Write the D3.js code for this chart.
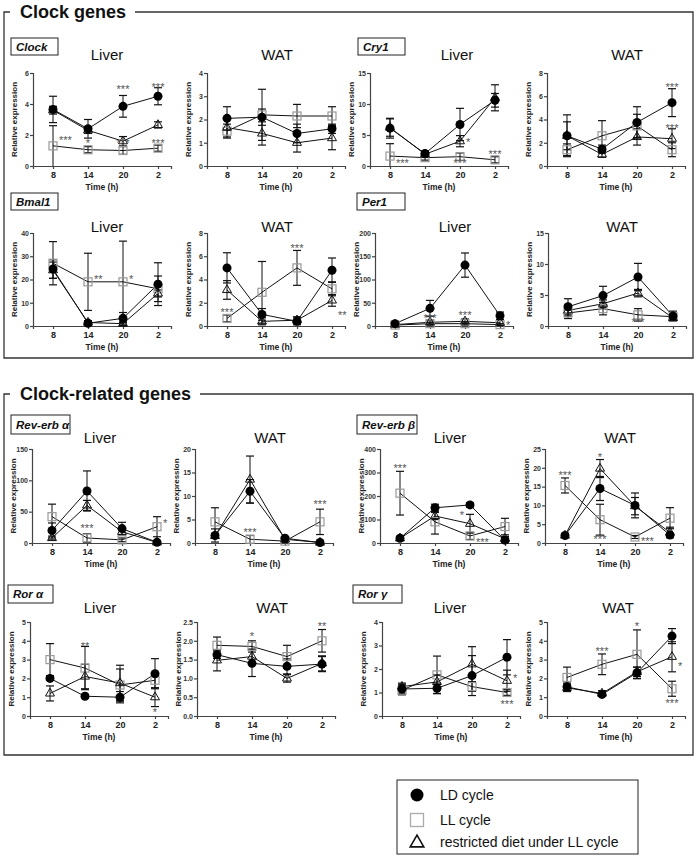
<!DOCTYPE html>
<html><head><meta charset="utf-8">
<script src="https://cdn.jsdelivr.net/npm/d3@7"></script>
<style>body{margin:0;background:#fff} svg{display:block;font-family:Arial,"Liberation Sans",sans-serif}</style>
</head><body><svg id="c" width="700" height="859"></svg>
<script>
// ---------- data ----------
const times = ["8","14","20","2"];
const legendLabels = ["LD cycle","LL cycle","restricted diet under LL cycle"];
const sectionTitles = ["Clock genes","Clock-related genes"];
// each point: [mean, error]
const clockLiverLD = [[3.65,0.85],[2.4,0.6],[3.85,0.7],[4.5,0.55]];
const clockLiverLL = [[1.3,1.3],[1.05,0.2],[1.0,0.25],[1.15,0.2]];
const clockLiverRD = [[3.6,0.25],[2.3,0.2],[1.6,0.3],[2.65,0.2]];
const clockLiverStars = [[0,1.8,"***","r"],[1,1.6,"*","c"],[2,5.1,"***","c"],[2,1.6,"***","c"],[3,5.2,"***","c"],[3,1.6,"***","c"]];
const clockWatLD = [[2.05,0.5],[2.1,0.35],[1.4,0.4],[1.6,0.2]];
const clockWatLL = [[1.5,0.3],[2.2,1.1],[2.15,0.5],[2.15,0.4]];
const clockWatRD = [[1.65,0.4],[1.4,0.5],[1.0,0.4],[1.2,0.5]];
const clockWatStars = [];
const cry1LiverLD = [[6.1,1.6],[2.0,0.4],[6.7,2.6],[10.6,1.1]];
const cry1LiverLL = [[1.6,2.0],[1.35,0.4],[1.5,0.6],[1.0,0.5]];
const cry1LiverRD = [[6.2,1.4],[1.9,0.5],[4.0,0.9],[11.0,2.1]];
const cry1LiverStars = [[0,0.8,"***","r"],[2,4.2,"*","r"],[2,0.8,"***","c"],[3,2.3,"***","c"]];
const cry1WatLD = [[2.6,1.8],[1.45,0.35],[3.75,1.35],[5.45,1.2]];
const cry1WatLL = [[1.4,0.5],[2.6,1.3],[3.45,1.0],[1.4,0.6]];
const cry1WatRD = [[2.6,1.2],[1.0,0.25],[2.5,0.7],[2.35,0.85]];
const cry1WatStars = [[3,7.0,"***","c"],[3,3.4,"***","c"]];
const bmal1LiverLD = [[24.5,4],[1.2,1],[3.3,2.5],[18,9.2]];
const bmal1LiverLL = [[27,9.3],[19,12.3],[19,17.5],[16,5.5]];
const bmal1LiverRD = [[24,3.5],[1.5,0.8],[1.0,0.8],[14,1.5]];
const bmal1LiverStars = [[1,21,"**","r"],[2,21,"*","r"]];
const bmal1WatLD = [[5.0,1.3],[1.0,0.5],[0.4,0.3],[4.8,1.05]];
const bmal1WatLL = [[0.65,0.3],[2.9,2.65],[5.0,1.5],[3.2,0.6]];
const bmal1WatRD = [[3.1,0.8],[0.4,0.3],[0.5,0.3],[2.2,0.5]];
const bmal1WatStars = [[0,1.35,"***","c"],[2,6.9,"***","c"],[3,1.1,"**","r"]];
const per1LiverLD = [[5,4],[38,17],[131,26],[22,8]];
const per1LiverLL = [[2,3],[5,3],[5,3],[3,2]];
const per1LiverRD = [[3,3],[8,5],[10,5],[7,5]];
const per1LiverStars = [[1,22.5,"***","c"],[2,27,"***","c"],[3,7,"*","r"]];
const per1WatLD = [[3.1,1.3],[4.9,1.5],[7.9,2.2],[1.6,0.8]];
const per1WatLL = [[2.1,0.9],[2.8,1.0],[1.8,1.0],[1.5,0.5]];
const per1WatRD = [[2.5,0.9],[3.6,0.6],[5.3,0.6],[1.3,0.4]];
const per1WatStars = [[2,0.9,"***","c"]];
const revaLiverLD = [[20,12],[83,32],[23,10],[1,1]];
const revaLiverLL = [[42,20],[8,7],[5,3],[26,16]];
const revaLiverRD = [[8,3],[60,8],[18,5],[1,1]];
const revaLiverStars = [[1,27,"***","c"],[3,35,"*","r"]];
const revaWatLD = [[1.6,1.4],[11,2.5],[1.0,0.3],[0.1,0.1]];
const revaWatLL = [[4.5,3],[0.8,0.8],[0.4,0.3],[4.5,2.7]];
const revaWatRD = [[1.5,0.5],[13.5,5],[0.8,0.3],[0.1,0.1]];
const revaWatStars = [[1,2.8,"***","c"],[3,8.7,"***","c"]];
const revbLiverLD = [[20,8],[150,15],[162,10],[12,10]];
const revbLiverLL = [[212,93],[90,52],[30,15],[70,35]];
const revbLiverRD = [[20,8],[115,15],[82,40],[18,10]];
const revbLiverStars = [[0,329,"***","c"],[2,128,"*","l"],[2,12,"***","r"]];
const revbWatLD = [[2.0,0.4],[14.5,3.2],[10,3.3],[2.1,0.5]];
const revbWatLL = [[15.3,2],[6.2,4.1],[1.6,0.4],[6.6,2.8]];
const revbWatRD = [[2.0,0.4],[19.8,2.4],[9.8,2.3],[2.8,1.4]];
const revbWatStars = [[0,18.6,"***","c"],[1,23.5,"*","c"],[1,1.5,"***","c"],[2,1.1,"***","r"]];
const roraLiverLD = [[2.0,0.1],[1.05,0.1],[1.0,0.3],[2.25,0.8]];
const roraLiverLL = [[3.0,0.85],[2.55,1.15],[1.65,0.85],[1.9,0.4]];
const roraLiverRD = [[1.2,0.4],[2.1,0.65],[1.75,0.95],[1.0,0.5]];
const roraLiverStars = [[1,3.85,"**","c"],[3,0.32,"*","c"]];
const roraWatLD = [[1.63,0.1],[1.4,0.35],[1.32,0.2],[1.38,0.2]];
const roraWatLL = [[1.88,0.22],[1.85,0.15],[1.58,0.3],[2.0,0.3]];
const roraWatRD = [[1.48,0.28],[1.58,0.2],[1.0,0.1],[1.4,0.2]];
const roraWatStars = [[1,2.19,"*","c"],[3,2.45,"**","c"]];
const rorgLiverLD = [[1.15,0.2],[1.18,0.22],[1.72,0.85],[2.5,0.75]];
const rorgLiverLL = [[1.1,0.2],[1.75,0.8],[1.25,0.2],[1.0,0.12]];
const rorgLiverRD = [[1.25,0.15],[1.45,0.3],[2.2,0.75],[1.5,0.45]];
const rorgLiverStars = [[3,1.7,"*","r"],[3,0.6,"***","c"]];
const rorgWatLD = [[1.55,0.2],[1.15,0.1],[2.3,0.3],[4.25,0.4]];
const rorgWatLL = [[2.05,0.55],[2.75,0.55],[3.28,1.3],[1.45,0.4]];
const rorgWatRD = [[1.5,0.2],[1.2,0.15],[2.35,0.25],[3.15,0.8]];
const rorgWatStars = [[1,3.57,"***","c"],[2,4.9,"*","c"],[3,2.77,"*","r"],[3,0.8,"***","c"]];

// ---------- panel table ----------
const panels = [
 {r:0,c:0,gene:"Clock",tissue:"Liver",max:6,step:2,ld:clockLiverLD,ll:clockLiverLL,rd:clockLiverRD,stars:clockLiverStars},
 {r:0,c:1,tissue:"WAT",max:4,step:1,ld:clockWatLD,ll:clockWatLL,rd:clockWatRD,stars:clockWatStars},
 {r:0,c:2,gene:"Cry1",tissue:"Liver",max:15,step:5,ld:cry1LiverLD,ll:cry1LiverLL,rd:cry1LiverRD,stars:cry1LiverStars},
 {r:0,c:3,tissue:"WAT",max:8,step:2,ld:cry1WatLD,ll:cry1WatLL,rd:cry1WatRD,stars:cry1WatStars},
 {r:1,c:0,gene:"Bmal1",tissue:"Liver",max:40,step:10,ld:bmal1LiverLD,ll:bmal1LiverLL,rd:bmal1LiverRD,stars:bmal1LiverStars},
 {r:1,c:1,tissue:"WAT",max:8,step:2,ld:bmal1WatLD,ll:bmal1WatLL,rd:bmal1WatRD,stars:bmal1WatStars},
 {r:1,c:2,gene:"Per1",tissue:"Liver",max:200,step:50,ld:per1LiverLD,ll:per1LiverLL,rd:per1LiverRD,stars:per1LiverStars},
 {r:1,c:3,tissue:"WAT",max:15,step:5,ld:per1WatLD,ll:per1WatLL,rd:per1WatRD,stars:per1WatStars},
 {r:2,c:0,gene:"Rev-erb α",tissue:"Liver",max:150,step:50,ld:revaLiverLD,ll:revaLiverLL,rd:revaLiverRD,stars:revaLiverStars},
 {r:2,c:1,tissue:"WAT",max:20,step:5,ld:revaWatLD,ll:revaWatLL,rd:revaWatRD,stars:revaWatStars},
 {r:2,c:2,gene:"Rev-erb β",tissue:"Liver",max:400,step:100,ld:revbLiverLD,ll:revbLiverLL,rd:revbLiverRD,stars:revbLiverStars},
 {r:2,c:3,tissue:"WAT",max:25,step:5,ld:revbWatLD,ll:revbWatLL,rd:revbWatRD,stars:revbWatStars},
 {r:3,c:0,gene:"Ror α",tissue:"Liver",max:5,step:1,ld:roraLiverLD,ll:roraLiverLL,rd:roraLiverRD,stars:roraLiverStars},
 {r:3,c:1,tissue:"WAT",max:2.5,step:0.5,fmt:".1f",ld:roraWatLD,ll:roraWatLL,rd:roraWatRD,stars:roraWatStars},
 {r:3,c:2,gene:"Ror γ",tissue:"Liver",max:4,step:1,ld:rorgLiverLD,ll:rorgLiverLL,rd:rorgLiverRD,stars:rorgLiverStars},
 {r:3,c:3,tissue:"WAT",max:5,step:1,ld:rorgWatLD,ll:rorgWatLL,rd:rorgWatRD,stars:rorgWatStars}
];

// ---------- layout ----------
const rowTop = [73,233,449,622], rowBot = [166,326,543,716];
const rowTitleY = [55,227,438,608];
const rowGeneBox = [[38,55],[193,210],[415,434],[585,603]];
const axisX = [[33,207,370,547],[33,207,375,548],[32,195,380,545],[30,197,382,547]];
const titleX = [[107,277,457,627],[107,277,455,622],[100,270,450,620],[100,272,450,618]];
const geneBoxX = [[11,58,358,405],[11,58,357,405],[11,70,357,417],[8,53,353,402]];

const svg = d3.select("#c");

// section boxes
function sectionBox(title, top, bottom, lineStart){
  const g = svg.append("g");
  g.append("path").attr("d",`M10,${top} H4 V${bottom} H693 V${top} H${lineStart}`)
   .attr("fill","none").attr("stroke","#333").attr("stroke-width",1.3);
  g.append("text").attr("x",20).attr("y",top+6).attr("font-size",18).attr("font-weight","bold").attr("fill","#111").text(title);
}
sectionBox(sectionTitles[0],12,358,135);
sectionBox(sectionTitles[1],394,755,200);

function starTxt(g, x, y, s){
  const dx = s[3]==="r" ? 6 : s[3]==="l" ? -6 : 0;
  g.append("text").attr("x",x(s[0])+dx).attr("y",y(s[1])+6)
    .attr("text-anchor", s[3]==="r"?"start":s[3]==="l"?"end":"middle")
    .attr("font-size",11).attr("fill","#555").text(s[2]);
}

panels.forEach(p=>{
  const g = svg.append("g");
  const x0 = axisX[p.r][p.c], top = rowTop[p.r], bot = rowBot[p.r];
  const x = d3.scaleLinear().domain([-20/35, 118/35]).range([x0, x0+138]);
  const y = d3.scaleLinear().domain([0,p.max]).range([bot, top]);
  const fmt = p.fmt ? d3.format(p.fmt) : d3.format("d");
  const ya = g.append("g").attr("transform",`translate(${x0},0)`)
    .call(d3.axisLeft(y).tickValues(d3.range(0,p.max+p.step/2,p.step)).tickFormat(fmt).tickSizeOuter(0).tickSize(3).tickPadding(1));
  ya.selectAll("text").attr("font-size",7).attr("font-weight","bold").attr("fill","#333").attr("font-family","Arial");
  const xa = g.append("g").attr("transform",`translate(0,${bot})`)
    .call(d3.axisBottom(x).tickValues([0,1,2,3]).tickFormat(i=>times[i]).tickSizeOuter(0).tickSize(3).tickPadding(3));
  xa.selectAll("text").attr("font-size",9).attr("font-weight","bold").attr("fill","#222").attr("font-family","Arial");
  g.selectAll(".domain, .tick line").attr("stroke","#444").attr("stroke-width",1.2);
  g.append("text").attr("x",x0+69).attr("y",bot+24).attr("text-anchor","middle")
    .attr("font-size",8.5).attr("font-weight","bold").attr("fill","#222").text("Time (h)");
  g.append("text").attr("transform",`translate(${x0-16},${(top+bot)/2}) rotate(-90)`).attr("text-anchor","middle")
    .attr("font-size",8).attr("font-weight","bold").attr("fill","#222").text("Relative expression");
  g.append("text").attr("x",titleX[p.r][p.c]).attr("y",rowTitleY[p.r]+5).attr("text-anchor","middle")
    .attr("font-size",15).attr("fill","#111").text(p.tissue);
  if(p.gene){
    const gx = geneBoxX[p.r][p.c < 2 ? 0 : 2], gx2 = geneBoxX[p.r][p.c < 2 ? 1 : 3];
    const [gy1, gy2] = rowGeneBox[p.r];
    g.append("rect").attr("x",gx).attr("y",gy1).attr("width",gx2-gx).attr("height",gy2-gy1)
      .attr("fill","#fff").attr("stroke","#222").attr("stroke-width",1);
    g.append("text").attr("x",gx+5).attr("y",(gy1+gy2)/2+4).attr("font-size",11.5)
      .attr("font-weight","bold").attr("font-style","italic").attr("fill","#111").text(p.gene);
  }
  const line = d3.line().x((d,i)=>x(i)).y(d=>y(d[0]));
  [p.ll,p.rd,p.ld].forEach(s=>{
    g.append("path").datum(s).attr("d",line).attr("fill","none").attr("stroke","#111").attr("stroke-width",1);
  });
  [p.ll,p.rd,p.ld].forEach(s=>{
    s.forEach((d,i)=>{
      const lo = Math.max(0,d[0]-d[1]), hi = d[0]+d[1];
      const xi = x(i);
      g.append("line").attr("x1",xi).attr("x2",xi).attr("y1",y(lo)).attr("y2",y(hi)).attr("stroke","#111").attr("stroke-width",1);
      [lo,hi].forEach(v=>{ if(v>0) g.append("line").attr("x1",xi-4).attr("x2",xi+4).attr("y1",y(v)).attr("y2",y(v)).attr("stroke","#111").attr("stroke-width",1.2); });
    });
  });
  p.ll.forEach((d,i)=>{
    g.append("rect").attr("x",x(i)-4).attr("y",y(d[0])-4).attr("width",8).attr("height",8)
      .attr("fill","none").attr("stroke","#999").attr("stroke-width",1.2);
  });
  p.rd.forEach((d,i)=>{
    g.append("path").attr("d",d3.symbol(d3.symbolTriangle,35)()).attr("transform",`translate(${x(i)},${y(d[0])})`)
      .attr("fill","none").attr("stroke","#111").attr("stroke-width",1);
  });
  p.ld.forEach((d,i)=>{
    g.append("circle").attr("cx",x(i)).attr("cy",y(d[0])).attr("r",4.5).attr("fill","#000");
  });
  p.stars.forEach(s=>starTxt(g,x,y,s));
});

// legend
const lg = svg.append("g");
lg.append("rect").attr("x",397).attr("y",780).attr("width",241).attr("height",74).attr("fill","#fff").attr("stroke","#222").attr("stroke-width",1);
const ly = [795,820,842];
lg.append("circle").attr("cx",417).attr("cy",ly[0]).attr("r",6.5).attr("fill","#000");
lg.append("rect").attr("x",410.5).attr("y",ly[1]-6.5).attr("width",13).attr("height",13).attr("fill","none").attr("stroke","#aaa").attr("stroke-width",1.3);
lg.append("path").attr("d",d3.symbol(d3.symbolTriangle,80)()).attr("transform",`translate(417,${ly[2]+1})`).attr("fill","none").attr("stroke","#111").attr("stroke-width",1.6);
legendLabels.forEach((t,i)=>{
  lg.append("text").attr("x",440).attr("y",ly[i]+5).attr("font-size",14).attr("fill","#111").text(t);
});
</script></body></html>
